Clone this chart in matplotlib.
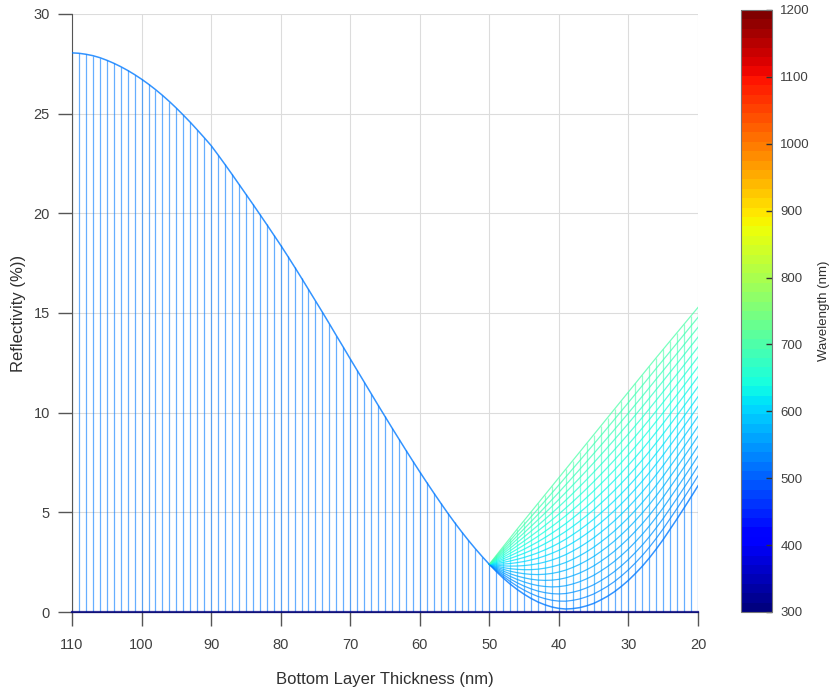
import numpy as np
import matplotlib
matplotlib.use("Agg")
import matplotlib.pyplot as plt
from matplotlib.collections import LineCollection
from matplotlib.colors import Normalize
from matplotlib.cm import ScalarMappable

plt.rcParams['font.family'] = ['Liberation Sans', 'DejaVu Sans']

# bottom layer thickness grid (nm), one mesh line per nm
thickness = np.arange(110, 19, -1)

# reflectivity (%) of the base curve, 110 -> 20 nm
main_refl = [
    28.05, 28.03, 27.98, 27.91, 27.81, 27.68, 27.53, 27.36, 27.17, 26.96,   # 110-101
    26.73, 26.48, 26.21, 25.92, 25.61, 25.28, 24.93, 24.57, 24.19, 23.80,   # 100-91
    23.40, 22.93, 22.45, 21.96, 21.46, 20.96, 20.46, 19.95, 19.44, 18.92,   # 90-81
    18.40, 17.86, 17.31, 16.75, 16.18, 15.61, 15.04, 14.46, 13.87, 13.29,   # 80-71
    12.70, 12.12, 11.54, 10.96, 10.38, 9.81, 9.24, 8.68, 8.12, 7.57,        # 70-61
    7.03, 6.50, 5.98, 5.47, 4.97, 4.49, 4.03, 3.59, 3.17, 2.77,             # 60-51
    2.39, 2.03, 1.70, 1.40, 1.13, 0.89, 0.68, 0.50, 0.36, 0.25,             # 50-41
    0.18, 0.15, 0.17, 0.22, 0.31, 0.43, 0.60, 0.79, 1.02, 1.29,             # 40-31
    1.59, 1.93, 2.30, 2.71, 3.16, 3.64, 4.16, 4.68, 5.22, 5.77,             # 30-21
    6.33,                                                                   # 20
]

# upper edge of the fan (longest wavelength), 50 -> 20 nm
top_refl = [
    2.39, 2.84, 3.28, 3.72, 4.16, 4.59, 5.02, 5.45, 5.88, 6.31,   # 50-41
    6.74, 7.17, 7.60, 8.03, 8.46, 8.89, 9.32, 9.75, 10.18, 10.61,  # 40-31
    11.04, 11.47, 11.90, 12.33, 12.76, 13.18, 13.60, 14.02, 14.44, 14.86,  # 30-21
    15.28,                                                         # 20
]

# wavelengths of the fan curves and their end values at 20 nm
fan_wl = [520, 530, 540, 550, 560, 570, 580, 590, 600, 610,
          620, 630, 640, 650, 660, 670, 680, 690, 700]
fan_end = [6.33, 6.83, 7.32, 7.82, 8.32, 8.82, 9.31, 9.81, 10.31, 10.80,
           11.30, 11.80, 12.30, 12.79, 13.29, 13.79, 14.28, 14.78, 15.28]

main_refl = np.array(main_refl)
top_refl = np.array(top_refl)
fan_x = thickness[thickness <= 50]
base = main_refl[thickness <= 50]

cmap = plt.get_cmap('jet')
norm = Normalize(300, 1200)
main_col = cmap(norm(fan_wl[0]))

# fan curves placed between base curve and upper edge
fan = []
for e in fan_end:
    t = (e - fan_end[0]) / (fan_end[-1] - fan_end[0])
    fan.append(base + t * (top_refl - base))

fig = plt.figure(figsize=(8.36, 6.93), dpi=100)
ax = fig.add_axes([72/836, 81/693, 626/836, 598/693])

# vertical mesh lines
segs = [[(x, 0), (x, r)] for x, r in zip(thickness, main_refl)]
cols = [main_col] * len(segs)
for k in range(1, len(fan)):
    c = cmap(norm(fan_wl[k]))
    for i, x in enumerate(fan_x):
        segs.append([(x, fan[k-1][i]), (x, fan[k][i])])
        cols.append(c)
ax.add_collection(LineCollection(segs, colors=cols, linewidths=0.9, alpha=0.6, zorder=2))

# curves
for k in range(1, len(fan)):
    ax.plot(fan_x, fan[k], color=cmap(norm(fan_wl[k])), lw=0.9, alpha=0.75, zorder=3)
ax.plot(thickness, main_refl, color=main_col, lw=1.1, alpha=0.8, zorder=4)
ax.plot([thickness[0], thickness[-1]], [0, 0], color=cmap(0.0), lw=1.6, alpha=0.8,
        zorder=5, clip_on=False)

ax.set_xlim(110, 20)
ax.set_ylim(0, 30)
ax.set_xticks(np.arange(110, 19, -10))
ax.set_yticks(np.arange(0, 31, 5))
ax.grid(True, color='#dcdcdc', lw=0.8)
ax.set_axisbelow(True)
for s in ['top', 'right']:
    ax.spines[s].set_visible(False)
for s in ['left', 'bottom']:
    ax.spines[s].set_color('#555555')
ax.tick_params(direction='out', length=10, width=1, colors='#555555',
               labelsize=10.5, labelcolor='#404040')
ax.tick_params(axis='x', pad=9)
ax.tick_params(axis='y', pad=6)
ax.set_xlabel('Bottom Layer Thickness (nm)', fontsize=12, color='#303030', labelpad=14)
ax.set_ylabel('Reflectivity (%))', fontsize=12, color='#303030', labelpad=5)

# colorbar
cax = fig.add_axes([741/836, 81/693, 31/836, 602/693])
sm = ScalarMappable(norm=norm, cmap=plt.get_cmap('jet', 64))
cb = fig.colorbar(sm, cax=cax)
cb.set_ticks(np.arange(300, 1201, 100))
cb.outline.set_edgecolor('#777777')
cb.ax.tick_params(direction='in', length=4, width=1, colors='#333333',
                  labelsize=9.5, labelcolor='#404040', pad=6)
cb.set_label('Wavelength (nm)', fontsize=9.5, color='#303030', labelpad=6)

fig.savefig('out.png', dpi=100)
